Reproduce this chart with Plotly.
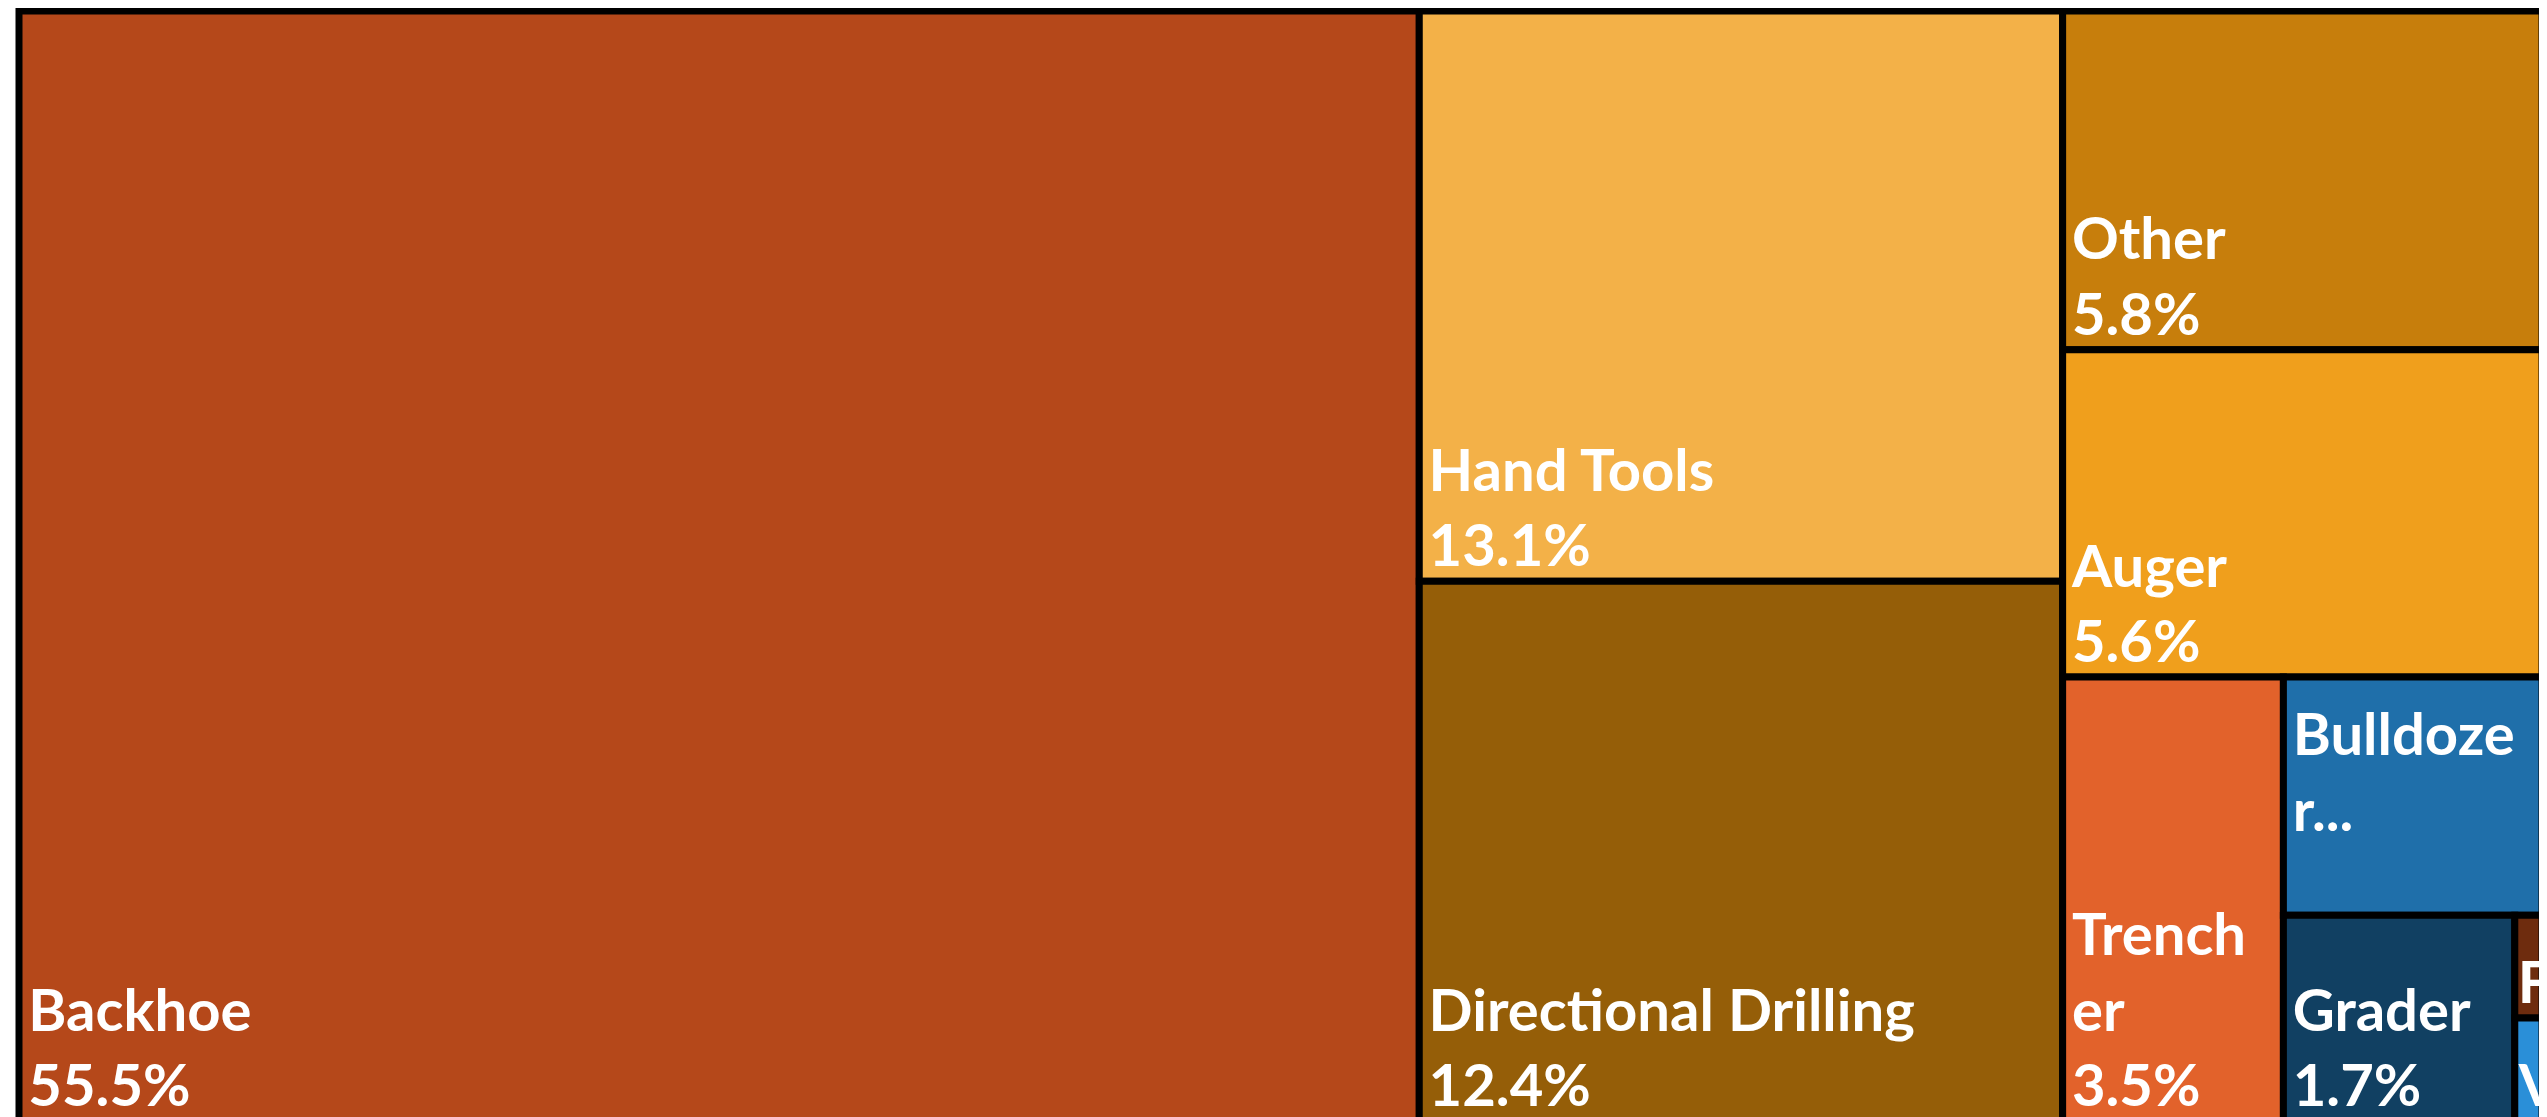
import plotly.graph_objects as go

labels = ["Backhoe", "Hand Tools", "Directional Drilling", "Other", "Auger",
          "Trencher", "Bulldozer", "Grader", "Farm Equipment", "Vacuum Equipment"]
values = [55.5, 13.1, 12.4, 5.8, 5.6, 3.5, 2.2, 1.7, 0.1, 0.1]
colors = ["#B5481A", "#F3B148", "#955E08", "#C77E0C", "#F09F1C",
          "#E2622B", "#1F6FAA", "#114062", "#6E2C0E", "#2A8FD8"]

sp = "<span style='font-size:26px'>\u00a0</span>"
std = f"{sp}%{{label}}<br>{sp}%{{value:.1f}}%"
templates = [std, std, std, std, std,
             f"{sp}Trench<br>{sp}er<br>{sp}%{{value:.1f}}%",
             f"{sp}Bulldoze<br>{sp}r...<br>{sp}", std,
             "%{label}", "%{label}"]

fig = go.Figure(go.Treemap(
    labels=labels,
    parents=[""] * len(labels),
    values=values,
    sort=True,
    marker=dict(colors=colors, line=dict(color="black", width=7),
                pad=dict(t=0, l=0, r=0, b=0)),
    texttemplate=templates,
    textposition="bottom left",
    textfont=dict(family="Lato", size=58, color="white", weight="bold"),
    tiling=dict(packing="squarify", squarifyratio=1, pad=0),
    pathbar=dict(visible=False),
    hoverinfo="label+value",
))

fig.update_layout(
    width=2539, height=1113,
    margin=dict(l=11, r=5, t=3, b=0),
    paper_bgcolor="white",
    uniformtext=dict(minsize=58, mode="show"),
)

fig.write_html("out.html")
